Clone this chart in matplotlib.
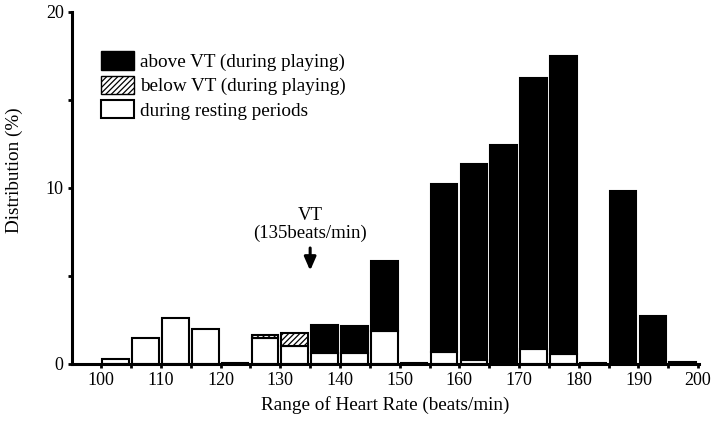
import numpy as np
import matplotlib
matplotlib.use("Agg")
import matplotlib.pyplot as plt
from matplotlib.patches import Patch

plt.rcParams['font.family'] = ['Liberation Serif', 'DejaVu Serif']
plt.rcParams['hatch.linewidth'] = 0.9

# Data (percent distribution per 5-beat bin)
bin_starts = [100, 105, 110, 115, 120, 125, 130, 135, 140, 145,
              150, 155, 160, 165, 170, 175, 180, 185, 190, 195]
resting = [0.30, 1.46, 2.60, 1.99, 0.07, 1.50, 1.02, 0.60, 0.60, 1.88,
           0.00, 0.66, 0.23, 0.00, 0.83, 0.57, 0.00, 0.00, 0.00, 0.00]
below_vt = [0.00, 0.00, 0.00, 0.00, 0.00, 0.15, 0.72, 0.00, 0.00, 0.00,
            0.00, 0.00, 0.00, 0.00, 0.00, 0.00, 0.00, 0.00, 0.00, 0.00]
above_vt = [0.00, 0.00, 0.00, 0.00, 0.00, 0.00, 0.00, 1.62, 1.58, 3.99,
            0.07, 9.54, 11.12, 12.44, 15.40, 16.93, 0.07, 9.81, 2.73, 0.11]
x_tick_labels = [100, 110, 120, 130, 140, 150, 160, 170, 180, 190, 200]
y_tick_labels = [0, 10, 20]

x = np.array(bin_starts, dtype=float) + 0.2
rest = np.array(resting)
below = np.array(below_vt)
above = np.array(above_vt)
width = 4.45

fig = plt.figure(figsize=(7.17, 4.25), dpi=100)
ax = fig.add_axes([72 / 717, 61 / 425, (699.3 - 72) / 717, (364 - 12) / 425])

m = rest > 0
ax.bar(x[m], rest[m], width=width, align='edge', facecolor='white',
       edgecolor='black', linewidth=1.5, zorder=2)
m = below > 0
ax.bar(x[m], below[m], width=width, bottom=rest[m], align='edge',
       facecolor='white', edgecolor='black', hatch='//////', linewidth=1.5, zorder=2)
m = above > 0
ax.bar(x[m], above[m], width=width, bottom=(rest + below)[m], align='edge',
       facecolor='black', edgecolor='black', linewidth=1.5, zorder=2)

ax.set_xlim(95.1, 200.2)
ax.set_ylim(0, 20)

for s in ['top', 'right']:
    ax.spines[s].set_visible(False)
for s in ['left', 'bottom']:
    ax.spines[s].set_linewidth(2.2)

ax.set_xticks(x_tick_labels)
ax.set_xticklabels([str(v) for v in x_tick_labels], fontsize=13)
ax.set_xticks(np.arange(105, 200, 10), minor=True)
ax.set_yticks(y_tick_labels)
ax.set_yticklabels([str(v) for v in y_tick_labels], fontsize=13)
ax.set_yticks([5, 15], minor=True)
ax.tick_params(which='both', direction='out', length=3, width=2, pad=3)

ax.set_xlabel('Range of Heart Rate (beats/min)', fontsize=13.8, labelpad=5)
ax.set_ylabel('Distribution (%)', fontsize=13.8)
ax.yaxis.set_label_coords(-0.078, 0.55)

# VT annotation
ax.text(135, 8.45, 'VT', ha='center', va='center', fontsize=13.5)
ax.text(135, 7.45, '(135beats/min)', ha='center', va='center', fontsize=13.5)
ax.annotate('', xy=(135, 5.15), xytext=(135, 6.75),
            arrowprops=dict(arrowstyle='-|>,head_width=0.35,head_length=0.8',
                            color='black', lw=2.2))

handles = [Patch(facecolor='black', edgecolor='black', label='above VT (during playing)'),
           Patch(facecolor='white', edgecolor='black', hatch='//////',
                 label='below VT (during playing)'),
           Patch(facecolor='white', edgecolor='black', linewidth=1.5,
                 label='during resting periods')]
leg = ax.legend(handles=handles, loc='upper left', bbox_to_anchor=(0.047, 0.888),
                frameon=False, fontsize=13.8, handlelength=1.7, handleheight=1.1,
                handletextpad=0.3, labelspacing=0.23, borderaxespad=0, borderpad=0)

fig.savefig('out.png', dpi=100)
